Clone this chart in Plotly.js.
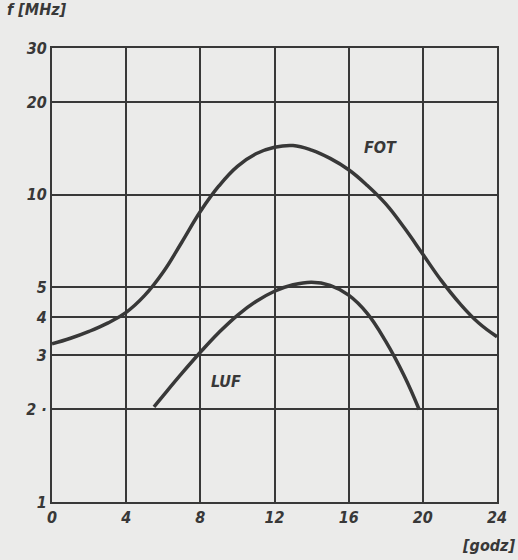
<!DOCTYPE html>
<html>
<head>
<meta charset="utf-8">
<script src="https://cdn.plot.ly/plotly-3.0.1.min.js"></script>
<style>html,body{margin:0;padding:0;background:#ebebea;}</style>
</head>
<body>
<div id="chart" style="width:518px;height:560px;"></div>
<script>
// FOT curve (hours, MHz)
const fotHours = [0, 1, 2, 3, 4, 5, 6, 7, 8, 9, 10, 11, 12, 13, 14, 15, 16, 17, 18, 19, 20, 21, 22, 23, 24];
const fotMHz   = [3.27, 3.41, 3.59, 3.82, 4.14, 4.7, 5.6, 7.0, 8.81, 10.67, 12.36, 13.58, 14.26, 14.45, 13.96, 13.12, 12.05, 10.72, 9.33, 7.8, 6.4, 5.25, 4.42, 3.83, 3.45];
// LUF curve (hours, MHz)
const lufHours = [5.5, 6, 7, 8, 9, 10, 11, 12, 13, 14, 15, 16, 17, 18, 19, 19.8];
const lufMHz   = [2.04, 2.22, 2.62, 3.07, 3.56, 4.05, 4.49, 4.85, 5.09, 5.19, 5.07, 4.71, 4.11, 3.33, 2.57, 2.0];
// ticks
const xTicks = [0, 4, 8, 12, 16, 20, 24];
const yTicks = [1, 2, 3, 4, 5, 10, 20, 30];
const yTickText = ['1', '2 ·', '3', '4', '5', '10', '20', '30'];

const ink = '#383838';
const fnt = {family: 'DejaVu Sans Condensed, DejaVu Sans', size: 16, color: ink, weight: 700, style: 'italic'};

const traces = [
  {x: fotHours, y: fotMHz, mode: 'lines', line: {color: ink, width: 3.5, shape: 'spline', smoothing: 1.2}, hoverinfo: 'skip'},
  {x: lufHours, y: lufMHz, mode: 'lines', line: {color: ink, width: 3.5, shape: 'spline', smoothing: 1.2}, hoverinfo: 'skip'}
];

const layout = {
  width: 518, height: 560,
  paper_bgcolor: '#ebebea', plot_bgcolor: '#ebebea',
  showlegend: false,
  margin: {l: 52, r: 21, t: 48, b: 58},
  xaxis: {
    range: [0, 24], tickvals: xTicks, ticktext: xTicks.map(String),
    showgrid: true, gridcolor: ink, gridwidth: 2,
    showline: true, linecolor: ink, linewidth: 2, mirror: true,
    zeroline: false, ticks: '', tickfont: fnt
  },
  yaxis: {
    type: 'log', range: [0, Math.log10(30)],
    tickvals: yTicks, ticktext: yTickText,
    showgrid: true, gridcolor: ink, gridwidth: 2,
    showline: true, linecolor: ink, linewidth: 2, mirror: true,
    zeroline: false, ticks: '', tickfont: fnt
  },
  annotations: [
    {text: 'f [MHz]', xref: 'paper', yref: 'paper', x: -0.105, y: 1.085, xanchor: 'left', yanchor: 'middle', showarrow: false, font: fnt},
    {text: '[godz]', xref: 'paper', yref: 'paper', x: 1.045, y: -0.095, xanchor: 'right', yanchor: 'middle', showarrow: false, font: fnt},
    {text: 'FOT', xref: 'x', yref: 'y', x: 17.7, y: Math.log10(14.2), showarrow: false, font: fnt},
    {text: 'LUF', xref: 'x', yref: 'y', x: 9.4, y: Math.log10(2.46), showarrow: false, font: fnt}
  ]
};

Plotly.newPlot('chart', traces, layout, {staticPlot: true, displayModeBar: false});
</script>
</body>
</html>
